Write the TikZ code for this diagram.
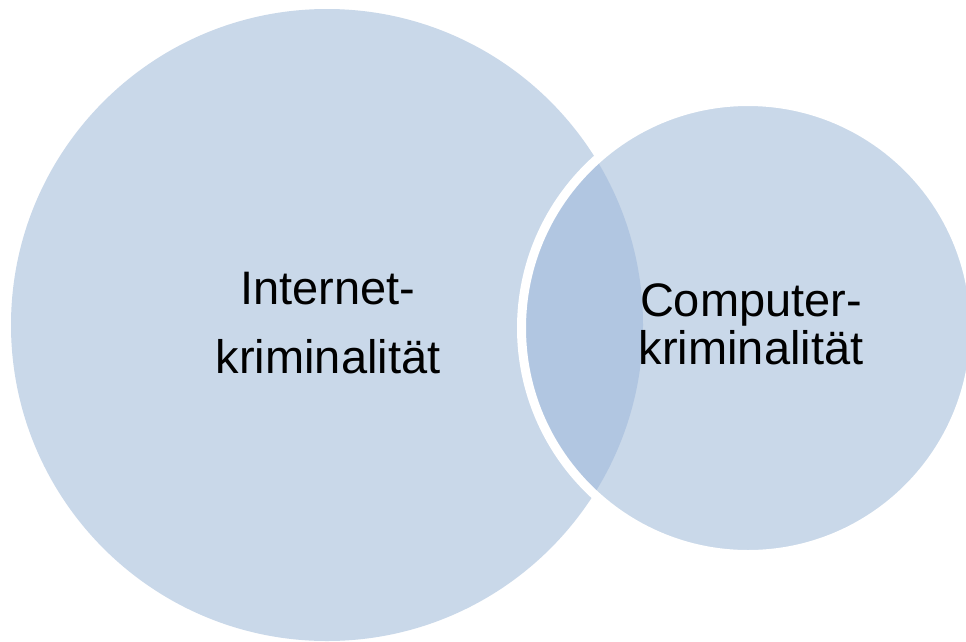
\documentclass[tikz,border=0pt]{standalone}
\usepackage{fontspec}
\setmainfont{Liberation Sans}
\definecolor{vennfill}{RGB}{201,216,233}
\definecolor{venndeep}{RGB}{177,198,225}
\begin{document}
\begin{tikzpicture}[x=1pt,y=-1pt,
  setcircle/.style={circle, inner sep=0pt, fill=vennfill},
  label/.style={inner sep=0pt, align=center, text=black}]
  % canvas
  \fill[white] (0,0) rectangle (966,641);
  \clip (0,0) rectangle (966,641);

  % the two sets
  \node[setcircle, minimum size=632pt] (inet) at (327,325) {};
  \node[setcircle, minimum size=453pt] (comp) at (748,328) {};

  % intersection, a darker shade
  \begin{scope}
    \clip (inet.center) circle (316pt);
    \fill[venndeep] (comp.center) circle (226.5pt);
  \end{scope}

  % white rim round the smaller set
  \draw[white, line width=9pt] (comp.center) circle (226.5pt);

  % labels
  \node[label, font=\fontsize{47pt}{69pt}\selectfont] (inettext) at (328,323.5)
    {Internet-\\kriminalität};
  \node[label, font=\fontsize{47pt}{48pt}\selectfont] (comptext) at (751,324)
    {Computer-\\kriminalität};
\end{tikzpicture}
\end{document}
